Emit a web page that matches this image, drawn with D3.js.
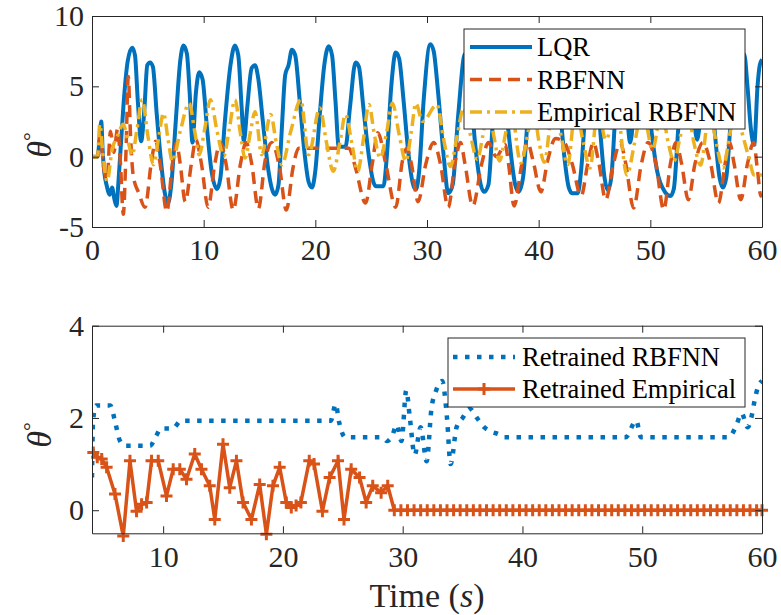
<!DOCTYPE html>
<html><head><meta charset="utf-8">
<script src="https://cdn.jsdelivr.net/npm/d3@7"></script>
<style>
body{margin:0;background:#fff;}
svg{display:block;}
text{font-family:"Liberation Serif","Times New Roman",Times,"DejaVu Serif",serif;}
</style></head>
<body><svg id="c" width="781" height="615"></svg>
<script>
// ---------- DATA ----------
const topXTicks = [0,10,20,30,40,50,60];
const topYTicks = [-5,0,5,10];
const botXTicks = [10,20,30,40,50,60];
const botYTicks = [0,2,4];

const lqrT = [0,0.5,0.7,0.83,0.95,1.1,1.3,1.6,1.8,2.0,2.2,2.35,2.6,2.9,3.2,3.6,3.85,4.1,4.4,4.7,4.95,5.2,5.45,5.8,6.2,6.5,6.8,7.1,7.5,7.9,8.2,8.5,8.75,9.0,9.3,9.6,9.9,10.3,10.7,11.2,11.5,11.9,12.4,12.8,13.1,13.4,13.6,13.9,14.3,14.6,14.9,15.3,15.8,16.2,16.4,16.7,17.0,17.3,17.6,17.9,18.2,18.6,19.0,19.4,19.7,20.0,20.4,20.8,21.2,21.5,21.8,22.1,22.7,23.1,23.6,23.9,24.3,24.8,25.2,25.4,26.1,26.4,26.8,27.2,27.5,27.9,28.3,28.7,29.0,29.3,29.7,30.3,30.6,31.0,31.5,31.9,32.3,32.8,33.4,33.8,34.3,35.1,35.5,35.9,36.5,36.9,37.4,37.9,38.2,38.6,39.0,39.6,40.0,40.5,40.9,41.4,41.8,42.3,42.7,43.0,43.5,43.8,44.2,44.7,45.1,45.5,45.9,46.2,46.5,46.9,47.3,47.7,48.2,48.6,49.1,49.5,50.0,50.6,51.3,51.8,52.1,52.5,53.0,53.4,53.8,54.2,54.6,55.0,55.4,55.8,56.2,56.5,56.8,57.2,57.8,58.4,58.7,59.0,59.3,59.6,59.8,60.0];
const lqrV = [0,0,1.5,2.5,0.5,-1.1,-2.0,-2.7,-2.2,-3.0,-3.5,-2.0,1.0,4.5,6.8,7.75,7.2,4.0,1.1,3.5,6.5,6.7,6.4,3.0,-0.5,-2.5,-3.3,-2.0,2.5,6.8,7.9,7.3,4.5,1.0,4.5,6.0,5.5,2.0,-1.0,-2.3,-1.5,2.5,6.5,7.9,7.2,3.5,1.1,3.5,6.3,6.5,5.5,2.5,-1.0,-2.5,-2.7,-2.0,2.0,5.8,6.5,7.6,7.2,4.0,0.5,-1.8,-2.2,-1.0,3.0,6.5,7.85,7.2,4.0,0.7,0.7,3.5,6.7,6.4,3.5,0.0,-1.8,-2.1,-2.1,0.0,5.0,7.4,7.0,4.0,0.5,-1.8,-2.35,-1.0,4.0,8.0,7.5,4.5,0.0,-2.6,-2.0,3.0,7.3,6.0,1.0,-2.5,-2.0,2.5,7.2,5.0,1.0,-2.0,-2.5,-1.5,2.5,7.3,6.5,2.5,5.0,7.0,4.5,0.0,-2.2,-2.6,-2.6,-1.0,3.5,7.5,6.5,2.0,-1.5,-2.4,-1.5,3.5,7.3,5.5,1.0,4.0,7.5,6.0,2.5,-1.0,-2.5,-2.8,-2.3,2.0,7.0,6.5,3.5,1.2,4.0,7.0,5.5,1.5,-1.5,-2.2,-1.5,2.5,6.5,7.3,5.0,2.0,0.85,5.0,6.5,6.9];

const rbfT = [0,0.5,0.75,1.05,1.35,1.65,1.95,2.3,2.55,2.8,3.05,3.25,3.45,3.7,4.2,4.75,5.3,5.7,6.1,6.7,7.2,7.55,7.9,8.35,8.9,9.3,9.8,10.4,11.0,11.5,12.0,12.65,13.3,13.8,14.3,14.9,15.5,16.1,16.8,17.4,18.0,18.5,23.0,23.6,24.5,25.1,25.6,26.3,27.2,27.8,28.2,28.6,29.2,29.9,30.6,31.2,31.9,32.5,33.0,33.4,34.1,34.9,35.5,36.2,37.0,37.3,37.8,38.5,39.0,39.5,40.2,40.8,41.5,42.3,43.0,43.8,44.4,44.9,45.4,46.0,46.7,47.3,47.8,48.5,49.2,49.8,50.5,51.2,51.8,52.3,52.8,53.4,54.0,54.7,55.4,56.1,56.7,57.1,57.5,58.1,58.7,59.25,59.6,59.9,60.0];
const rbfV = [0,0,1.5,-0.8,-1.6,1.8,0.3,2.0,-0.5,-4.1,0.5,5.7,1.5,-1.4,-2.6,-3.6,-0.5,1.1,-0.5,-3.9,-0.5,1.0,-0.5,-3.2,-0.5,1.2,-0.5,-3.6,-0.5,1.0,-0.5,-3.8,-0.5,1.0,-0.5,-3.7,-0.3,1.0,-0.8,-3.8,-0.8,0.6,0.6,-0.8,-3.3,-0.5,1.7,-0.5,-3.6,-0.3,0.6,-0.5,-3.2,-0.5,1.0,-0.5,-3.6,-0.5,1.0,-0.5,-3.5,-0.5,1.0,0.0,0.85,-0.5,-3.5,-0.5,1.0,-0.3,-2.5,-0.3,1.3,1.0,-0.5,-2.8,-0.5,1.0,-0.5,-3.06,-0.5,1.0,-0.5,-3.65,-0.5,1.0,-0.5,-3.77,-0.5,1.0,-0.5,-3.06,-0.5,1.0,-0.5,-3.3,-0.5,1.0,-0.5,-3.06,-0.5,1.0,-1.0,-2.8,-2.6];

const empT = [0,0.5,0.7,1.0,1.35,1.8,2.3,2.8,3.2,3.6,4.0,4.5,5.0,5.5,6.0,6.4,6.8,7.2,7.9,8.7,9.2,9.6,10.1,10.6,11.2,11.8,12.3,12.8,13.3,13.7,14.2,14.6,15.2,16.0,16.5,17.0,17.8,18.7,19.4,20.4,21.0,21.6,22.2,22.7,23.3,23.8,24.3,24.8,25.3,25.8,26.4,26.9,27.5,28.1,28.6,29.0,29.6,30.9,31.5,32.1,32.7,33.3,33.9,34.5,35.0,35.5,36.0,36.5,37.0,37.5,38.4,39.0,39.5,40.0,40.5,41.3,42.0,42.6,43.3,44.0,44.6,45.3,46.0,47.0,47.9,48.6,49.3,50.2,51.0,51.6,52.1,52.7,53.3,53.9,54.5,55.3,55.9,56.5,57.1,57.5,58.1,58.8,59.3,59.6,60.0];
const empV = [0,0,2.3,0.0,-1.75,0.5,1.5,2.3,1.2,0.1,1.8,4.05,1.5,-0.57,1.5,3.1,1.3,-0.33,1.8,3.8,1.8,0.14,2.0,4.05,1.8,0.05,2.0,4.05,1.6,-0.1,1.8,3.2,0.14,3.0,1.0,-0.57,1.8,4.05,0.14,3.46,1.0,-1.04,1.0,3.0,0.8,-1.04,1.2,3.7,1.5,-0.1,1.8,3.8,1.6,-0.33,1.8,3.8,2.5,3.7,1.2,-0.7,1.5,3.5,1.5,-0.2,1.5,3.6,1.4,-0.3,1.5,3.5,-0.45,1.5,3.6,1.2,-0.4,3.5,1.5,-0.6,3.4,1.0,-0.8,3.5,1.2,3.3,-1.3,1.0,3.4,0.5,3.3,1.0,-0.33,1.5,3.4,1.0,-0.6,3.2,1.0,-0.8,1.5,3.0,1.95,0.0,-1.3,-1.3,-1.3];

const rrT = [4.06,4.15,4.4,5.6,6.0,6.4,6.8,8.9,9.4,9.8,10.8,11.5,24.0,24.4,24.7,25.2,28.3,28.7,29.1,29.5,29.9,30.3,30.6,31.0,31.5,32.0,32.4,32.8,33.3,33.7,34.0,34.5,35.0,35.6,36.2,36.8,37.4,38.0,38.5,48.6,49.5,49.9,57.2,57.8,58.3,58.8,59.1,59.4,59.7,60.0];
const rrV = [0.71,1.94,2.27,2.27,1.9,1.5,1.4,1.4,1.6,1.77,1.77,1.94,1.94,2.3,1.9,1.58,1.58,1.5,1.6,1.85,1.5,2.6,2.0,1.2,1.8,1.06,2.2,2.6,2.8,2.0,1.0,1.8,2.0,2.2,2.0,1.8,1.7,1.65,1.58,1.58,1.94,1.58,1.58,1.8,2.1,1.8,2.0,2.4,2.7,2.8];

const reT = [4.17,4.5,4.87,5.28,5.98,6.67,7.23,7.78,8.2,8.62,9.03,9.59,10.28,10.84,11.39,11.95,12.64,13.2,13.89,14.31,15.0,15.56,16.12,16.67,17.37,18.06,18.62,19.17,19.73,20.28,20.7,21.1,21.5,22.2,22.6,23.3,23.9,24.6,25.1,25.7,26.4,26.95,27.5,28.2,28.75,29.3,29.85,30.4,30.95,31.5,32.05,32.6,33.15,33.7,34.25,34.8,35.35,35.9,36.45,37.0,37.55,38.1,38.65,39.2,39.75,40.3,40.85,41.4,41.95,42.5,43.05,43.6,44.15,44.7,45.25,45.8,46.35,46.9,47.45,48.0,48.55,49.1,49.65,50.2,50.75,51.3,51.85,52.4,52.95,53.5,54.05,54.6,55.15,55.7,56.25,56.8,57.35,57.9,58.45,59.0,59.55,60.0];
const reV = [1.25,1.15,1.11,0.93,0.35,-0.56,1.07,-0.02,0.13,0.17,1.07,1.07,0.31,0.89,0.89,0.67,1.22,0.89,0.53,-0.2,1.43,0.49,1.07,0.17,-0.2,0.56,-0.52,0.53,0.93,0.17,0.06,0.1,0.17,1.07,1.0,-0.02,0.71,1.07,-0.2,0.89,0.71,0.17,0.53,0.38,0.53,0,0,0,0,0,0,0,0,0,0,0,0,0,0,0,0,0,0,0,0,0,0,0,0,0,0,0,0,0,0,0,0,0,0,0,0,0,0,0,0,0,0,0,0,0,0,0,0,0,0,0,0,0,0,0,0,0];

const topLegend = ["LQR","RBFNN","Empirical RBFNN"];
const botLegend = ["Retrained RBFNN","Retrained Empirical"];
const colors = ["#0072BD","#D95319","#EDB120"];

// ---------- DRAW ----------
const FONT = "'Liberation Serif','Times New Roman',Times,'DejaVu Serif',serif";
const svg = d3.select("#c");
const axisColor = "#262626";
const zip = (T,V)=>T.map((t,i)=>[t,V[i]]);

function frame(g, x, y, xt, yt){
  const fmt = d => String(d);
  const ax = d3.axisBottom(x).tickValues(xt).tickFormat(fmt).tickSizeInner(-7).tickSizeOuter(0).tickPadding(12);
  const ay = d3.axisLeft(y).tickValues(yt).tickFormat(fmt).tickSizeInner(-7).tickSizeOuter(0).tickPadding(8);
  const gx = g.append("g").attr("transform",`translate(0,${y.range()[0]})`).call(ax);
  const gy = g.append("g").attr("transform",`translate(${x.range()[0]},0)`).call(ay);
  const gx2 = g.append("g").attr("transform",`translate(0,${y.range()[1]})`).call(d3.axisTop(x).tickValues(xt).tickSizeInner(-7).tickSizeOuter(0).tickFormat(""));
  const gy2 = g.append("g").attr("transform",`translate(${x.range()[1]},0)`).call(d3.axisRight(y).tickValues(yt).tickSizeInner(-7).tickSizeOuter(0).tickFormat(""));
  [gx,gy,gx2,gy2].forEach(s=>{
    s.attr("font-family",FONT);
    s.selectAll("path,line").attr("stroke",axisColor).attr("stroke-width",1);
    s.selectAll("text").attr("fill",axisColor).attr("font-family",FONT).attr("font-size","30px");
  });
}

// Top plot
const xT = d3.scaleLinear().domain([0,60]).range([92,762]);
const yT = d3.scaleLinear().domain([-5,10]).range([227,16]);
// Bottom plot
const xB = d3.scaleLinear().domain([4.06,60]).range([92,762]);
const yB = d3.scaleLinear().domain([-0.5,4]).range([533.3,325.7]);

const defs = svg.append("defs");
defs.append("clipPath").attr("id","clipT").append("rect").attr("x",92).attr("y",16).attr("width",670).attr("height",211);
defs.append("clipPath").attr("id","clipB").append("rect").attr("x",92).attr("y",325.7).attr("width",670).attr("height",207.6);

const gT = svg.append("g");
const linesT = gT.append("g").attr("clip-path","url(#clipT)");
const lineT = d3.line().x(d=>xT(d[0])).y(d=>yT(d[1])).curve(d3.curveMonotoneX);
linesT.append("path").attr("d",lineT(zip(lqrT,lqrV))).attr("fill","none").attr("stroke",colors[0]).attr("stroke-width",4).attr("stroke-linejoin","round");
linesT.append("path").attr("d",lineT(zip(rbfT,rbfV))).attr("fill","none").attr("stroke",colors[1]).attr("stroke-width",3.5).attr("stroke-dasharray","12,7");
linesT.append("path").attr("d",lineT(zip(empT,empV))).attr("fill","none").attr("stroke",colors[2]).attr("stroke-width",3.5).attr("stroke-dasharray","12,5,3,5");
frame(gT,xT,yT,topXTicks,topYTicks);

// top legend
const lgT = gT.append("g");
lgT.append("rect").attr("x",464).attr("y",29).attr("width",281).attr("height",100).attr("fill","#fff").attr("stroke",axisColor).attr("stroke-width",1);
const dashes = [null,"12,7","12,5,3,5"];
topLegend.forEach((name,i)=>{
  const yy = 47 + i*32.5;
  lgT.append("line").attr("x1",470).attr("x2",532).attr("y1",yy).attr("y2",yy).attr("stroke",colors[i]).attr("stroke-width",i===0?4:3.5).attr("stroke-dasharray",dashes[i]);
  lgT.append("text").attr("x",537).attr("y",yy+9).text(name).attr("font-family",FONT).attr("font-size","26.5px").attr("fill","#000");
});

// Bottom plot
const gB = svg.append("g");
const linesB = gB.append("g").attr("clip-path","url(#clipB)");
linesB.append("path").attr("d",d3.line().x(d=>xB(d[0])).y(d=>yB(d[1])).curve(d3.curveMonotoneX)(zip(rrT,rrV))).attr("fill","none").attr("stroke",colors[0]).attr("stroke-width",4.5).attr("stroke-dasharray","4.5,7.5");
const reData = zip(reT,reV);
linesB.append("path").attr("d",d3.line().x(d=>xB(d[0])).y(d=>yB(d[1]))(reData)).attr("fill","none").attr("stroke",colors[1]).attr("stroke-width",3.5);
const plus = (g,cx,cy)=>{
  g.append("path").attr("d",`M${cx-6},${cy}H${cx+6}M${cx},${cy-6}V${cy+6}`).attr("stroke",colors[1]).attr("stroke-width",3).attr("fill","none");
};
const mk = gB.append("g");
reData.forEach(d=>plus(mk,xB(d[0]),yB(d[1])));
frame(gB,xB,yB,botXTicks,botYTicks);

const lgB = gB.append("g");
lgB.append("rect").attr("x",448).attr("y",338).attr("width",297).attr("height",69).attr("fill","#fff").attr("stroke",axisColor).attr("stroke-width",1);
lgB.append("line").attr("x1",453).attr("x2",515).attr("y1",357).attr("y2",357).attr("stroke",colors[0]).attr("stroke-width",4.5).attr("stroke-dasharray","4.5,7.5");
lgB.append("text").attr("x",522).attr("y",366).text(botLegend[0]).attr("font-family",FONT).attr("font-size","26.5px");
lgB.append("line").attr("x1",453).attr("x2",515).attr("y1",389).attr("y2",389).attr("stroke",colors[1]).attr("stroke-width",3.5);
plus(lgB,484,389);
lgB.append("text").attr("x",522).attr("y",398).text(botLegend[1]).attr("font-family",FONT).attr("font-size","26.5px");

// labels
function ylab(cx,cy){
  const t = svg.append("text").attr("transform",`translate(${cx},${cy}) rotate(-90)`).attr("text-anchor","middle").attr("font-family",FONT).attr("font-size","34px").attr("fill",axisColor);
  t.append("tspan").attr("font-style","italic").text("θ");
  t.append("tspan").attr("dy",-13).attr("font-size","22px").text("°");
}
ylab(51,145);
ylab(51,435);
const xl = svg.append("text").attr("x",427).attr("y",607).attr("text-anchor","middle").attr("font-family",FONT).attr("font-size","34px").attr("fill",axisColor);
xl.append("tspan").text("Time (");
xl.append("tspan").attr("font-style","italic").text("s");
xl.append("tspan").text(")");
</script></body></html>
